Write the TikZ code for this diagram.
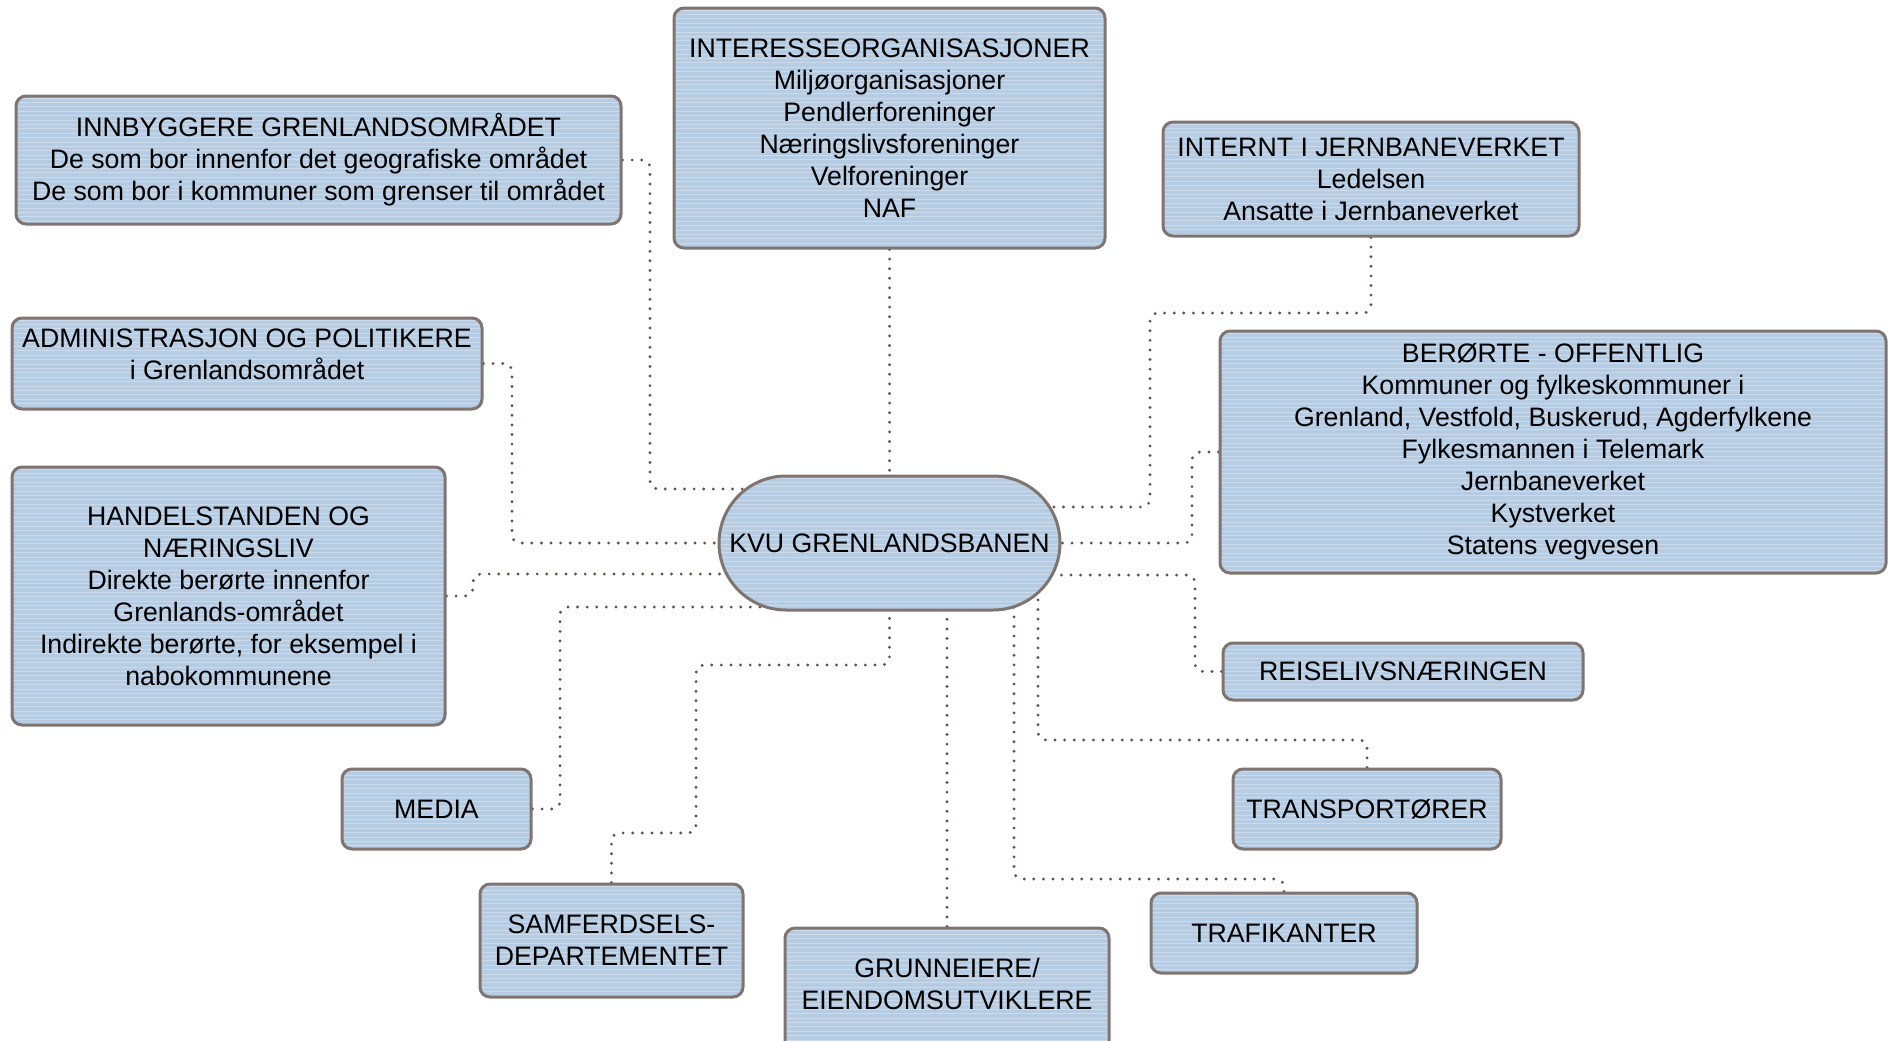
\documentclass[tikz,border=0pt]{standalone}
\usepackage{fontspec}
\setmainfont{Liberation Sans}
\usetikzlibrary{calc,backgrounds}
\definecolor{boxfill}{RGB}{181,204,227}
\definecolor{boxline}{RGB}{128,116,113}
\definecolor{dotline}{RGB}{100,82,78}
\tikzset{
  stripes/.style={path picture={
    \foreach \k in {0,...,75}{
      \draw[white, opacity=0.3, line width=0.5pt]
        ([yshift=-\k*2.2pt-1pt]path picture bounding box.north west) --
        ([yshift=-\k*2.2pt-1pt]path picture bounding box.north east);
    }}},
  boxfont/.style={font=\fontsize{13.35pt}{16pt}\selectfont},
  box/.style={draw=boxline, line width=1.5pt, fill=boxfill, rounded corners=5pt,
    stripes, inner sep=0pt, align=center, boxfont},
  txt/.style={align=center, inner sep=0pt, boxfont},
  conn/.style={draw=dotline, line width=1.6pt, line cap=round,
    dash pattern=on 0pt off 4.8pt, rounded corners=4pt},
}
\begin{document}
\begin{tikzpicture}[x=0.5pt, y=-0.5pt]
\useasboundingbox (0,0) rectangle (1888,1040);
\clip (0,0) rectangle (1888,1040);

\node[box, minimum width=302.5pt, minimum height=64pt] (inn) at (318.5,160)
  {INNBYGGERE GRENLANDSOMRÅDET\\De som bor innenfor det geografiske området\\De som bor i kommuner som grenser til området};
\node[box, minimum width=215.5pt, minimum height=120pt] (int) at (889.5,128)
  {INTERESSEORGANISASJONER\\Miljøorganisasjoner\\Pendlerforeninger\\Næringslivsforeninger\\Velforeninger\\NAF};
\node[box, minimum width=208pt, minimum height=57pt] (jbv) at (1371,179)
  {INTERNT I JERNBANEVERKET\\Ledelsen\\Ansatte i Jernbaneverket};
\node[box, minimum width=235pt, minimum height=45.5pt] (adm) at (247,363.5) {};
\node[txt] (admt) at (247,354.5) {ADMINISTRASJON OG POLITIKERE\\i Grenlandsområdet};
\node[box, minimum width=333pt, minimum height=121pt] (ber) at (1553,452)
  {BERØRTE - OFFENTLIG\\Kommuner og fylkeskommuner i\\Grenland, Vestfold, Buskerud, Agderfylkene\\Fylkesmannen i Telemark\\Jernbaneverket\\Kystverket\\Statens vegvesen};
\node[box, minimum width=216.5pt, minimum height=129pt] (han) at (228.5,596)
  {HANDELSTANDEN OG\\NÆRINGSLIV\\Direkte berørte innenfor\\Grenlands-området\\Indirekte berørte, for eksempel i\\nabokommunene};
\node[box, rounded corners=33.5pt, minimum width=170.5pt, minimum height=67pt] (kvu) at (889.5,543)
  {KVU GRENLANDSBANEN};
\node[box, minimum width=180pt, minimum height=28.5pt] (rei) at (1403,671.5) {REISELIVSNÆRINGEN};
\node[box, minimum width=94.5pt, minimum height=40pt] (med) at (436.5,809) {MEDIA};
\node[box, minimum width=134pt, minimum height=40pt] (tpt) at (1367,809) {TRANSPORTØRER};
\node[box, minimum width=131.5pt, minimum height=56.5pt] (sam) at (611.5,940.5) {SAMFERDSELS-\\DEPARTEMENTET};
\node[box, minimum width=162pt, minimum height=66pt] (gru) at (947,994) {};
\node[txt] (grut) at (947,984) {GRUNNEIERE/\\EIENDOMSUTVIKLERE};
\node[box, minimum width=133pt, minimum height=40pt] (trf) at (1284,933) {TRAFIKANTER};

\begin{scope}[on background layer]
\draw[conn] (inn.east) -| (650,489) -- (kvu.center |- 650,489);
\draw[conn] (adm.east) -| (512,543) -- (kvu.center);
\draw[conn] (han.east) -| (473,574) -- (kvu.center |- 473,574);
\draw[conn] (med.east) -| (560,607) -- (kvu.center |- 560,607);
\draw[conn] (sam.north) |- (696,833) |- (889.5,665) -- (kvu.center);
\draw[conn] (gru.north) -- (gru.north |- kvu.center);
\draw[conn] (trf.north) |- (1014,879) -- (1014,879 |- kvu.center);
\draw[conn] (tpt.north) |- (1038,740) -- (1038,740 |- kvu.center);
\draw[conn] (rei.west) -| (1195,575) -- (kvu.center |- 1195,575);
\draw[conn] (ber.west) -| (1192,543) -- (kvu.center);
\draw[conn] (jbv.south) |- (1150,313) |- (kvu.center |- 1150,507);
\draw[conn] (int.south) -- (kvu.center);
\end{scope}
\end{tikzpicture}
\end{document}
